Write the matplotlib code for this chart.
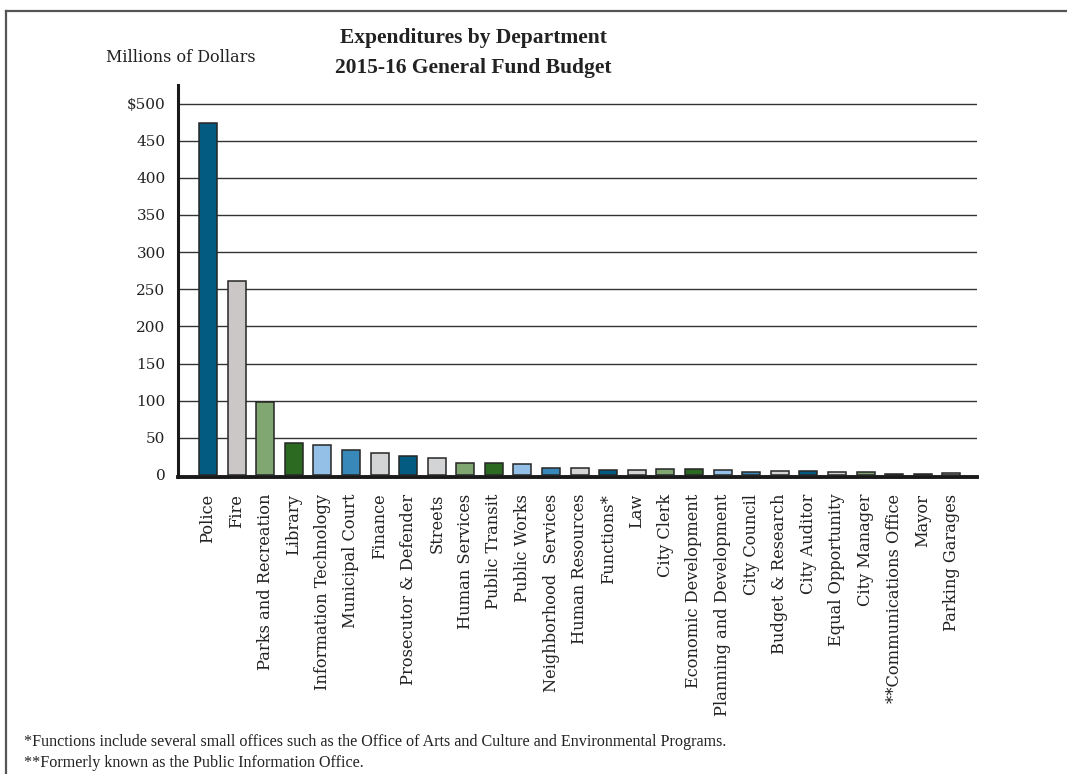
import numpy as np
import matplotlib
matplotlib.use('Agg')
import matplotlib.pyplot as plt
from matplotlib.lines import Line2D

# 数据
departments = ['Police', 'Fire', 'Parks and Recreation', 'Library', 'Information Technology',
               'Municipal Court', 'Finance', 'Prosecutor & Defender', 'Streets', 'Human Services',
               'Public Transit', 'Public Works', 'Neighborhood  Services', 'Human Resources',
               'Functions*', 'Law', 'City Clerk', 'Economic Development', 'Planning and Development',
               'City Council', 'Budget & Research', 'City Auditor', 'Equal Opportunity',
               'City Manager', '**Communications Office', 'Mayor', 'Parking Garages']
spending = [474, 261, 98, 43, 41, 33, 29, 25, 23, 16, 16, 14.5, 10, 10, 7, 7, 8, 8, 7,
            4, 5, 5, 4, 4.5, 1.8, 1.8, 2.8]
bar_colors = ['#035B82', '#CBC7C6', '#80A672', '#2C6A22', '#94BFE6', '#3889B9', '#D3D4D6',
              '#035B82', '#D3D4D6', '#80A672', '#2C6A22', '#94BFE6', '#3889B9', '#D3D4D6',
              '#035B82', '#D3D4D6', '#80A672', '#2C6A22', '#94BFE6', '#3889B9', '#D3D4D6',
              '#035B82', '#D3D4D6', '#80A672', '#2C6A22', '#035B82', '#BDBDBD']
y_ticks = [0, 50, 100, 150, 200, 250, 300, 350, 400, 450, 500]
y_tick_labels = ['0', '50', '100', '150', '200', '250', '300', '350', '400', '450', '$500']

W, H = 1067, 774
fig = plt.figure(figsize=(W / 100, H / 100), dpi=100)
fig.patch.set_facecolor('white')

# 坐标轴位置（像素 -> 比例），底线略低于0
ax_left, ax_right, ax_bottom, ax_top = 178, 977, 477, 85
ax = fig.add_axes([ax_left / W, 1 - ax_bottom / H, (ax_right - ax_left) / W, (ax_bottom - ax_top) / H])

x = np.arange(len(departments))
ax.bar(x, spending, width=0.63, color=bar_colors, edgecolor='#262626', linewidth=1.1, zorder=3)

ax.set_xlim(-1.05, len(departments) - 0.1)
ax.set_ylim(-2.7, 525)

ax.set_yticks(y_ticks)
ax.set_yticklabels(y_tick_labels, family='DejaVu Serif', fontsize=11, color='#222222')
ax.set_xticks(x)
ax.set_xticklabels(departments, rotation=90, ha='center', va='top',
                   family='DejaVu Serif', fontsize=11.7, color='#222222')
ax.tick_params(axis='both', length=0)
ax.tick_params(axis='x', pad=12)
ax.tick_params(axis='y', pad=9)

for v in y_ticks[1:]:
    ax.axhline(v, color='#333333', linewidth=1.0, zorder=1)

for s in ['top', 'right']:
    ax.spines[s].set_visible(False)
ax.spines['left'].set_linewidth(2.2)
ax.spines['left'].set_color('#1a1a1a')
ax.spines['bottom'].set_linewidth(2.8)
ax.spines['bottom'].set_color('#1a1a1a')
ax.spines['bottom'].set_zorder(2)

# 标题与单位
fig.text(473 / W, 1 - 38 / H, 'Expenditures by Department', ha='center', va='center',
         family='Liberation Serif', fontweight='bold', fontsize=15.5, color='#222222')
fig.text(473 / W, 1 - 68 / H, '2015-16 General Fund Budget', ha='center', va='center',
         family='Liberation Serif', fontweight='bold', fontsize=15.5, color='#222222')
fig.text(106 / W, 1 - 57 / H, 'Millions of Dollars', ha='left', va='center',
         family='DejaVu Serif', fontsize=11.5, color='#222222')

# 脚注
fig.text(24 / W, 1 - 742 / H,
         '*Functions include several small offices such as the Office of Arts and Culture and Environmental Programs.',
         ha='left', va='center', family='Liberation Serif', fontsize=11.6, color='#222222')
fig.text(24 / W, 1 - 763 / H, '**Formerly known as the Public Information Office.',
         ha='left', va='center', family='Liberation Serif', fontsize=11.6, color='#222222')

# 外框（上边和左边）
fig.add_artist(Line2D([6 / W, 1.0], [1 - 11 / H, 1 - 11 / H], transform=fig.transFigure,
                      color='#555555', linewidth=1.6))
fig.add_artist(Line2D([6 / W, 6 / W], [1 - 11 / H, 0.0], transform=fig.transFigure,
                      color='#555555', linewidth=1.6))

fig.savefig('out.png', dpi=100, facecolor='white')
